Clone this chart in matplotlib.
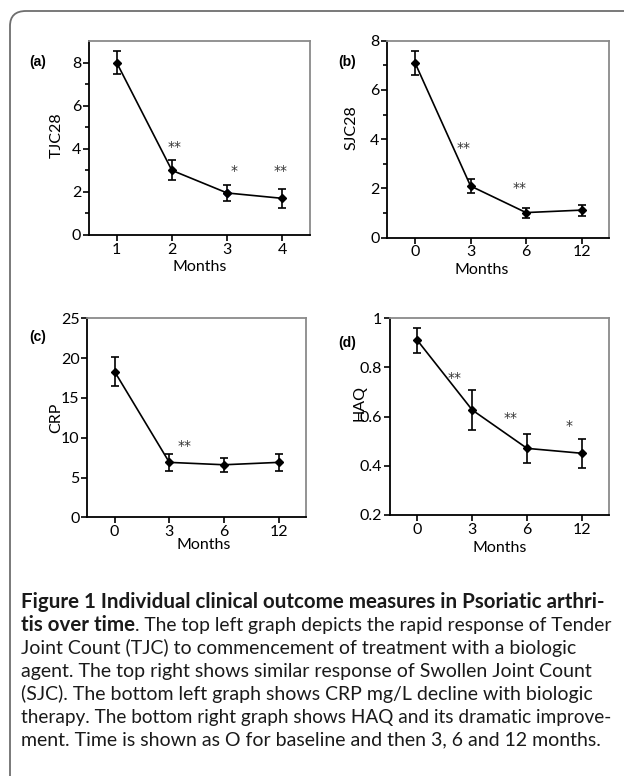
import numpy as np
import matplotlib.pyplot as plt
from matplotlib.path import Path
from matplotlib.patches import PathPatch

# datos
tjc_x = ['1', '2', '3', '4']
tjc = [8.0, 3.0, 1.95, 1.7]
tjc_err = [0.52, 0.46, 0.38, 0.44]

sjc_x = ['0', '3', '6', '12']
sjc = [7.1, 2.1, 1.02, 1.12]
sjc_err = [0.5, 0.3, 0.2, 0.22]

crp_x = ['0', '3', '6', '12']
crp = [18.3, 6.9, 6.6, 6.9]
crp_err = [1.8, 1.1, 0.85, 1.1]

haq_x = ['0', '3', '6', '12']
haq = [0.91, 0.627, 0.471, 0.451]
haq_err = [0.05, 0.08, 0.06, 0.06]

# asteriscos de significancia (posicion de categoria, valor, texto)
tjc_stars = [(2.05, 4.1, '**'), (3.13, 2.95, '*'), (3.97, 2.95, '**')]
sjc_stars = [(1.87, 3.63, '**'), (2.88, 2.03, '**')]
crp_stars = [(2.27, 8.96, '**')]
haq_stars = [(1.67, 0.756, '**'), (2.69, 0.596, '**'), (3.77, 0.562, '*')]

W, H = 624, 776
plt.rcParams['font.family'] = ['Lato', 'DejaVu Sans']
FS = 11.5

fig = plt.figure(figsize=(W / 100, H / 100), dpi=100)


def px_rect(l, t, r, b):
    return [l / W, 1 - b / H, (r - l) / W, (b - t) / H]


def panel(rect, cats, vals, errs, stars, ylim, yticks, yminor, ylabel,
          xl, yl, tag, tagpos, blue=None):
    ax = fig.add_axes(px_rect(*rect))
    pos = np.arange(1, len(cats) + 1)
    ax.errorbar(pos, vals, yerr=errs, color='black', lw=1.2, elinewidth=1.2,
                capsize=3, capthick=1.2, marker='D', ms=4.5, mfc='black',
                mec='black')
    if blue is not None:
        ax.plot(pos[blue], vals[blue], marker='D', ms=4.5, color='#1c1c8a',
                ls='none')
    for sx, sy, s in stars:
        ax.text(sx, sy, s, ha='center', va='center', fontsize=10,
                color='#333333', family='DejaVu Sans')
    ax.set_xlim(0.5, len(cats) + 0.5)
    ax.set_ylim(*ylim)
    ax.set_xticks(pos)
    ax.set_xticklabels(cats)
    ax.set_yticks(yticks)
    ax.set_yticklabels([('%g' % v) for v in yticks])
    if yminor is not None:
        ax.set_yticks(yminor, minor=True)
    ax.tick_params(direction='out', length=4, width=1.2, labelsize=FS,
                   pad=1.5, colors='black')
    ax.tick_params(axis='y', which='minor', direction='out', length=3,
                   width=1.2)
    for s in ['left', 'bottom']:
        ax.spines[s].set_color('black')
        ax.spines[s].set_linewidth(1.3)
    for s in ['top', 'right']:
        ax.spines[s].set_color('#8a8a8a')
        ax.spines[s].set_linewidth(1.3)
    ax.set_xlabel('Months', fontsize=FS)
    ax.xaxis.set_label_coords(*xl)
    ax.xaxis.label.set_va('center')
    ax.set_ylabel(ylabel, fontsize=FS)
    ax.yaxis.set_label_coords(*yl)
    ax.yaxis.label.set_va('center')
    fig.text(tagpos[0] / W, 1 - tagpos[1] / H, tag, ha='center', va='center',
             fontsize=10, fontweight='bold', family='Liberation Sans')
    return ax


panel((89, 41, 310, 235), tjc_x, tjc, tjc_err, tjc_stars, (0, 9),
      [0, 2, 4, 6, 8], [1, 3, 5, 7], 'TJC28', (0.50, -0.165), (-0.145, 0.515),
      '(a)', (38, 62), blue=2)
panel((387.3, 40.7, 609.3, 237.7), sjc_x, sjc, sjc_err, sjc_stars, (0, 8),
      [0, 2, 4, 6, 8], [1, 3, 5, 7], 'SJC28', (0.425, -0.164), (-0.16, 0.557),
      '(b)', (346.7, 61.7))
panel((87.3, 318.3, 306, 517.3), crp_x, crp, crp_err, crp_stars, (0, 25),
      [0, 5, 10, 15, 20, 25], None, 'CRP', (0.53, -0.139), (-0.14, 0.5),
      '(c)', (38, 336.7))
panel((390, 318.3, 609.3, 515), haq_x, haq, haq_err, haq_stars, (0.2, 1.0),
      [0.2, 0.4, 0.6, 0.8, 1.0], None, 'HAQ', (0.498, -0.168), (-0.137, 0.57),
      '(d)', (346.7, 343.3))

# marco redondeado
verts = [(10 / W, 0), (10 / W, 1 - 26 / H), (10 / W, 1 - 11 / H),
         (26 / W, 1 - 11 / H), (1, 1 - 11 / H)]
codes = [Path.MOVETO, Path.LINETO, Path.CURVE3, Path.CURVE3, Path.LINETO]
fig.add_artist(PathPatch(Path(verts, codes), fill=False, ec='#6e6e6e',
                         lw=1.3, transform=fig.transFigure))

# leyenda de la figura
cap_bold1 = 'Figure 1 Individual clinical outcome measures in Psoriatic arthri-'
cap_bold2 = 'tis over time'
cap_lines = [
    '. The top left graph depicts the rapid response of Tender',
    'Joint Count (TJC) to commencement of treatment with a biologic',
    'agent. The top right shows similar response of Swollen Joint Count',
    '(SJC). The bottom left graph shows CRP mg/L decline with biologic',
    'therapy. The bottom right graph shows HAQ and its dramatic improve-',
    'ment. Time is shown as O for baseline and then 3, 6 and 12 months.',
]
cap_fs = 14
cap_bfs = 14.8
x0 = 21 / W
x_max = 613
y_lines = [602, 625, 648, 671, 694, 717, 740]
r = fig.canvas.get_renderer()


def fit(t):
    # encoge la linea si se sale del margen derecho
    bb = t.get_window_extent(r)
    if bb.x1 > x_max:
        t.set_fontsize(t.get_fontsize() * (x_max - bb.x0) / bb.width)
    return t


fit(fig.text(x0, 1 - y_lines[0] / H, cap_bold1, fontsize=cap_bfs,
             fontweight='bold', va='center', color='#1a1a1a'))
tb = fig.text(x0, 1 - y_lines[1] / H, cap_bold2, fontsize=cap_bfs,
              fontweight='bold', va='center', color='#1a1a1a')
bb = tb.get_window_extent(r)
fit(fig.text(bb.x1 / W, 1 - y_lines[1] / H, cap_lines[0], fontsize=cap_fs,
             va='center', color='#1a1a1a'))
for yy, line in zip(y_lines[2:], cap_lines[1:]):
    fit(fig.text(x0, 1 - yy / H, line, fontsize=cap_fs, va='center',
                 color='#1a1a1a'))

fig.savefig('out.png', dpi=100)
